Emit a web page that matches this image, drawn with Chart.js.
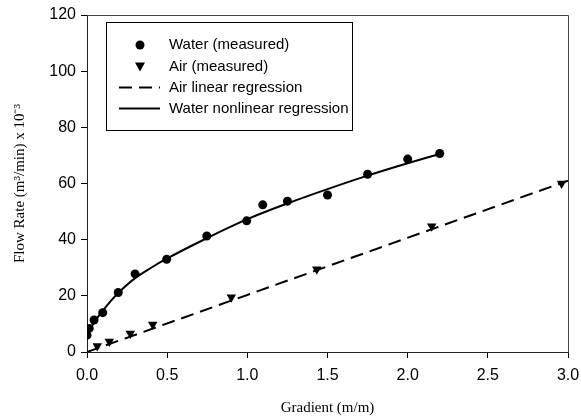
<!DOCTYPE html>
<html>
<head>
<meta charset="utf-8">
<script src="https://cdn.jsdelivr.net/npm/chart.js@4"></script>
<style>
html,body{margin:0;padding:0;background:#fff;}
#wrap{width:581px;height:419px;position:relative;}
</style>
</head>
<body>
<div id="wrap"><canvas id="c"></canvas></div>
<script>
// Measured water flow
const waterX = [0.0, 0.014, 0.044, 0.098, 0.195, 0.30, 0.497, 0.747, 0.996, 1.096, 1.25, 1.50, 1.75, 2.0, 2.20];
const waterY = [6.0, 8.4, 11.4, 14.0, 21.2, 27.8, 33.0, 41.3, 46.7, 52.4, 53.7, 55.9, 63.3, 68.7, 70.7];
// Measured air flow
const airX = [0.064, 0.139, 0.27, 0.41, 0.90, 1.433, 2.15, 2.96];
const airY = [2.1, 3.7, 6.6, 9.8, 19.5, 29.5, 44.8, 60.0];
// Air linear regression line (read endpoints)
const airFitX = [0.0, 3.0];
const airFitY = [0.0, 61.0];
// Water nonlinear regression curve
const waterFitX = [0.0, 0.02, 0.05, 0.1, 0.15, 0.2, 0.3, 0.4, 0.5, 0.75, 1.0, 1.25, 1.5, 1.75, 2.0, 2.2];
const waterFitY = [5.0, 8.0, 11.0, 14.8, 18.3, 21.3, 26.3, 30.0, 33.3, 40.6, 47.3, 52.9, 58.0, 62.8, 67.2, 70.5];
// Axis ticks
const xTicks = [0.0, 0.5, 1.0, 1.5, 2.0, 2.5, 3.0];
const yTicks = [0, 20, 40, 60, 80, 100, 120];
const legendLabels = ["Water (measured)", "Air (measured)", "Air linear regression", "Water nonlinear regression"];

const pts = (xs, ys) => xs.map((x, i) => ({x: x, y: ys[i]}));

const frameLegend = {
  id: 'frameLegend',
  afterDraw(chart) {
    const ctx = chart.ctx, a = chart.chartArea;
    ctx.save();
    ctx.strokeStyle = '#444';
    ctx.lineWidth = 1;
    ctx.beginPath();
    ctx.moveTo(Math.round(a.left) + 0.5, Math.round(a.top) + 0.5);
    ctx.lineTo(Math.round(a.right) + 0.5, Math.round(a.top) + 0.5);
    ctx.lineTo(Math.round(a.right) + 0.5, Math.round(a.bottom) + 0.5);
    ctx.stroke();
    // legend box
    const bx = 106.5, by = 22.5, bw = 246, bh = 108;
    ctx.strokeStyle = '#000';
    ctx.strokeRect(bx, by, bw, bh);
    const rows = [45, 66.5, 87.5, 108.5];
    const mx = 140, tx = 169;
    ctx.fillStyle = '#000';
    // circle
    ctx.beginPath(); ctx.arc(mx, rows[0], 4.5, 0, Math.PI * 2); ctx.fill();
    // triangle down
    ctx.beginPath();
    ctx.moveTo(mx - 5, rows[1] - 4); ctx.lineTo(mx + 5, rows[1] - 4); ctx.lineTo(mx, rows[1] + 5);
    ctx.closePath(); ctx.fill();
    // dashed
    ctx.lineWidth = 2;
    ctx.setLineDash([13, 7]);
    ctx.beginPath(); ctx.moveTo(119, rows[2]); ctx.lineTo(160, rows[2]); ctx.stroke();
    ctx.setLineDash([]);
    ctx.beginPath(); ctx.moveTo(119, rows[3]); ctx.lineTo(160, rows[3]); ctx.stroke();
    ctx.font = '15px "Liberation Sans", Arial, sans-serif';
    ctx.textBaseline = 'middle';
    ctx.textAlign = 'left';
    legendLabels.forEach((t, i) => ctx.fillText(t, tx, rows[i]));
    ctx.restore();
  }
};

new Chart(document.getElementById('c'), {
  type: 'scatter',
  data: {
    datasets: [
      {label: legendLabels[0], data: pts(waterX, waterY), pointStyle: 'circle', pointRadius: 4.5,
       backgroundColor: '#000', borderColor: '#000', borderWidth: 0, showLine: false},
      {label: legendLabels[1], data: pts(airX, airY), pointStyle: 'triangle', rotation: 180, pointRadius: 5.5,
       backgroundColor: '#000', borderColor: '#000', borderWidth: 0, showLine: false},
      {label: legendLabels[2], data: pts(airFitX, airFitY), showLine: true, pointRadius: 0,
       borderColor: '#000', borderWidth: 2, borderDash: [13, 7], fill: false},
      {label: legendLabels[3], data: pts(waterFitX, waterFitY), showLine: true, pointRadius: 0,
       borderColor: '#000', borderWidth: 2, cubicInterpolationMode: 'monotone', fill: false}
    ]
  },
  options: {
    responsive: true,
    maintainAspectRatio: false,
    devicePixelRatio: 1,
    animation: false,
    layout: {padding: {top: 15, right: 13, bottom: 0, left: 0}},
    plugins: {legend: {display: false}, tooltip: {enabled: false}},
    scales: {
      x: {
        type: 'linear', min: 0, max: 3,
        afterFit(s) { s.height = 67; s.paddingRight = 0; s.paddingLeft = 0; },
        afterBuildTicks(s) { s.ticks = xTicks.map(v => ({value: v})); },
        ticks: {color: '#000', font: {family: '"Liberation Sans", Arial, sans-serif', size: 16}, padding: 8,
                callback: v => Number(v).toFixed(1), maxRotation: 0, autoSkip: false},
        grid: {drawOnChartArea: false, drawTicks: true, tickLength: 6, tickColor: '#000'},
        border: {display: true, color: '#222', width: 1},
        title: {display: true, text: 'Gradient (m/m)', color: '#000',
                font: {family: '"Liberation Serif", "Times New Roman", serif', size: 15},
                padding: {top: 0, bottom: 2}}
      },
      y: {
        type: 'linear', min: 0, max: 120,
        afterFit(s) { s.width = 87; },
        afterBuildTicks(s) { s.ticks = yTicks.map(v => ({value: v})); },
        ticks: {color: '#000', font: {family: '"Liberation Sans", Arial, sans-serif', size: 16}, padding: 5, autoSkip: false},
        grid: {drawOnChartArea: false, drawTicks: true, tickLength: 6, tickColor: '#000'},
        border: {display: true, color: '#222', width: 1},
        title: {display: true, text: 'Flow Rate (m³/min) x 10⁻³', color: '#000',
                font: {family: '"Liberation Serif", "Times New Roman", serif', size: 15},
                padding: {top: 11, bottom: 0}}
      }
    }
  },
  plugins: [frameLegend]
});
</script>
</body>
</html>
